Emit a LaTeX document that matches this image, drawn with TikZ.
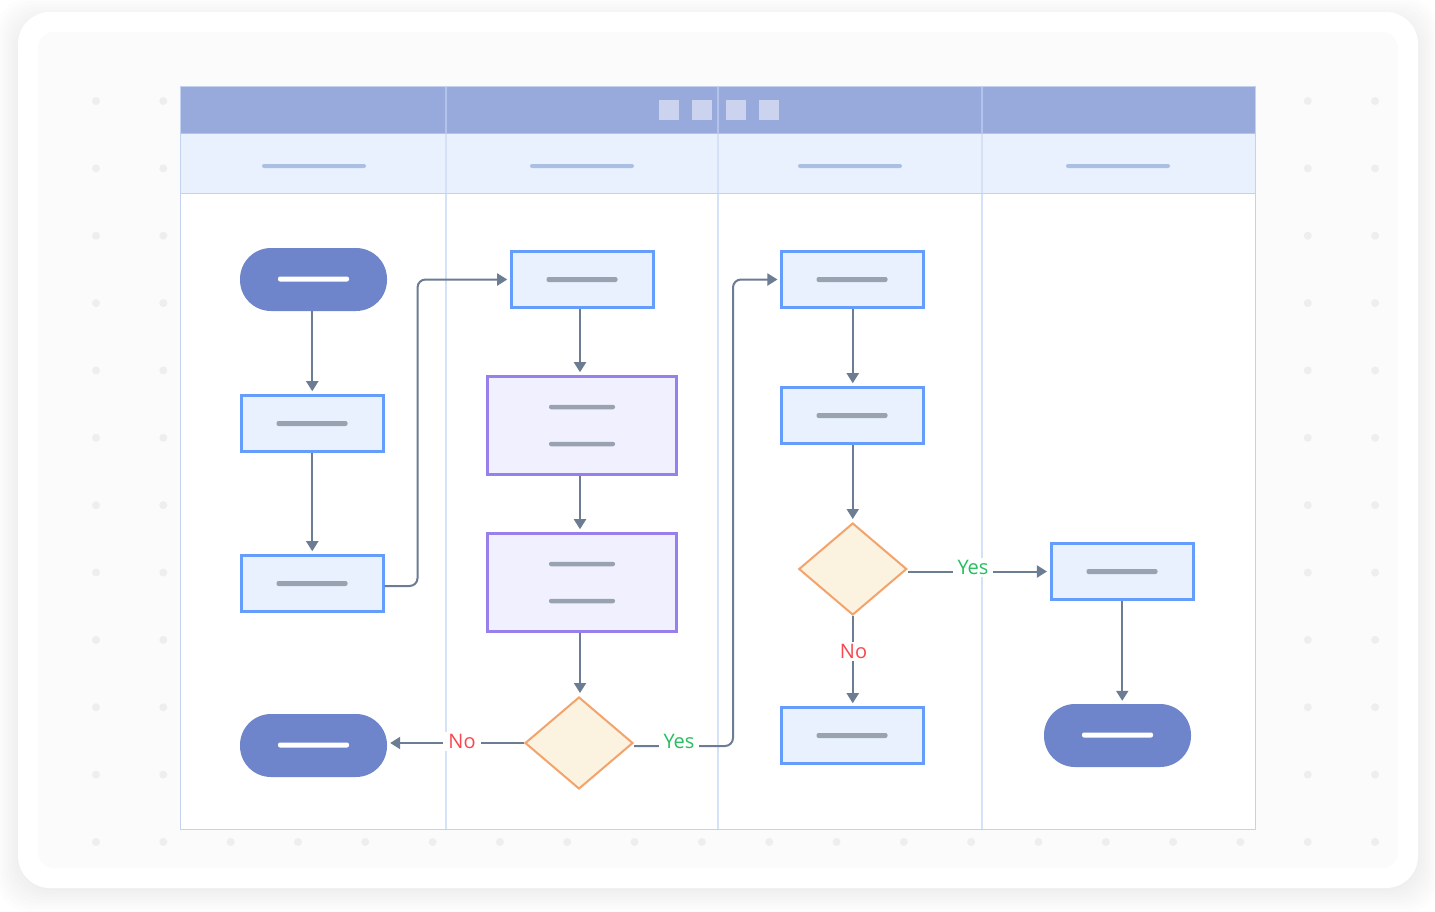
\documentclass[tikz,border=0pt]{standalone}
\usepackage{fontspec}
\setmainfont{Open Sans}
\usetikzlibrary{arrows.meta,shapes.geometric}
\definecolor{cardbg}{HTML}{FBFBFB}
\definecolor{griddot}{HTML}{EEEEEE}
\definecolor{headfill}{HTML}{98A9DC}
\definecolor{headline}{HTML}{B4C3EA}
\definecolor{headsquare}{HTML}{CBD3EE}
\definecolor{subfill}{HTML}{E9F1FE}
\definecolor{subbarfill}{HTML}{AABFE2}
\definecolor{laneline}{HTML}{D5E1F6}
\definecolor{laneborder}{HTML}{C3D3EF}
\definecolor{pillfill}{HTML}{6F85CB}
\definecolor{boxline}{HTML}{659DFD}
\definecolor{purpleline}{HTML}{9880EC}
\definecolor{purplefill}{HTML}{F1F0FE}
\definecolor{diamondline}{HTML}{F3A36C}
\definecolor{diamondfill}{HTML}{FBF2DF}
\definecolor{arrowline}{HTML}{6B7C93}
\definecolor{greybarfill}{HTML}{98A2B0}
\definecolor{yesgreen}{HTML}{27BE5F}
\definecolor{nored}{HTML}{F8474F}
\begin{document}
\begin{tikzpicture}[
    x=1pt, y=-1pt,
    every node/.style={inner sep=0pt},
    pill/.style={fill=pillfill, rounded corners=31pt, minimum width=147pt, minimum height=63pt},
    bluebox/.style={draw=boxline, line width=3pt, fill=subfill, minimum width=141.6pt, minimum height=55.6pt},
    purplebox/.style={draw=purpleline, line width=3pt, fill=purplefill, minimum width=188.6pt, minimum height=97.6pt},
    decision/.style={diamond, draw=diamondline, line width=2pt, fill=diamondfill, minimum width=108pt, minimum height=92pt},
    whitebar/.style={fill=white, rounded corners=2pt, minimum width=71pt, minimum height=5pt},
    greybar/.style={fill=greybarfill, rounded corners=2pt, minimum width=71pt, minimum height=5pt},
    shortbar/.style={fill=greybarfill, rounded corners=2pt, minimum width=66pt, minimum height=4.5pt},
    subbar/.style={fill=subbarfill, rounded corners=2pt, minimum width=104pt, minimum height=4pt},
    headsq/.style={fill=headsquare, minimum width=20pt, minimum height=20pt},
    flow/.style={draw=arrowline, line width=2pt, rounded corners=8pt, -{Triangle[length=10pt,width=12pt]}, shorten >=3pt},
    yeslabel/.style={fill=white, text=yesgreen, font=\fontsize{20}{20}\selectfont, inner xsep=5pt, inner ysep=2pt},
    nolabel/.style={fill=white, text=nored, font=\fontsize{20}{20}\selectfont, inner xsep=5pt, inner ysep=2pt}
]
    \useasboundingbox (0,0) rectangle (1435,911);

    % card and soft shadow
    \foreach \s in {22,19,...,1} {
        \fill[black, opacity=0.007, rounded corners=34pt] (18-\s,12-\s+8) rectangle (1418+\s,888+\s+2);
    }
    \fill[white, rounded corners=32pt] (18,12) rectangle (1418,888);
    \fill[cardbg, rounded corners=16pt] (38,32) rectangle (1398,868);

    % dots
    \foreach \i in {0,...,19} {
        \foreach \j in {0,...,11} {
            \fill[griddot] (96+67.32*\i,101+67.36*\j) circle (4pt);
        }
    }

    % swimlanes
    \fill[white] (180.5,86.5) rectangle (1255.5,829.5);
    \fill[headfill] (180.5,86.5) rectangle (1255.5,133);
    \fill[subfill] (180.5,133) rectangle (1255.5,193);
    \foreach \x in {446,718,982} {
        \draw[laneline, line width=1.5pt] (\x,133) -- (\x,829);
        \draw[headline, line width=1.5pt] (\x,87) -- (\x,133);
    }
    \draw[headline, line width=1pt] (180.5,133) -- (1255.5,133);
    \draw[laneborder, line width=1pt] (180.5,193) -- (1255.5,193);
    \draw[laneborder, line width=1pt] (180.5,86.5) rectangle (1255.5,829.5);
    \foreach \x in {669,702,736,769} {
        \node[headsq] (sq\x) at (\x,110) {};
    }
    \foreach \x in {314,582,850,1118} {
        \node[subbar] (sub\x) at (\x,166) {};
    }

    % first lane
    \node[pill] (start) at (313.5,279.5) {};
    \node[whitebar] (startbar) at (313.5,279) {};
    \node[bluebox] (check) at (312.25,423.5) {};
    \node[greybar] (checkbar) at (312,423.5) {};
    \node[bluebox] (send) at (312.25,583.5) {};
    \node[greybar] (sendbar) at (312,583.5) {};
    \node[pill] (stopleft) at (313.5,745.5) {};
    \node[whitebar] (stopleftbar) at (313.5,745) {};

    % second lane
    \node[bluebox] (receive) at (582.5,279.5) {};
    \node[greybar] (receivebar) at (582,279.5) {};
    \node[purplebox] (reviewa) at (582,425.5) {};
    \node[shortbar] (reviewaup) at (582,407) {};
    \node[shortbar] (reviewalow) at (582,444) {};
    \node[purplebox] (reviewb) at (582,582.5) {};
    \node[shortbar] (reviewbup) at (582,564) {};
    \node[shortbar] (reviewblow) at (582,601) {};
    \node[decision] (approve) at (579,743) {};

    % third lane
    \node[bluebox] (plan) at (852.75,279.5) {};
    \node[greybar] (planbar) at (852,279.5) {};
    \node[bluebox] (build) at (852.75,415.5) {};
    \node[greybar] (buildbar) at (852,415.5) {};
    \node[decision] (test) at (852.75,569) {};
    \node[bluebox] (fix) at (852.75,735.5) {};
    \node[greybar] (fixbar) at (852,735.5) {};

    % fourth lane
    \node[bluebox] (ship) at (1122.25,571.5) {};
    \node[greybar] (shipbar) at (1122,571.5) {};
    \node[pill] (stopright) at (1117.5,735.5) {};
    \node[whitebar] (stoprightbar) at (1117.5,735) {};

    % connectors
    \draw[flow] (check.north |- start.south) -- (check.north);
    \draw[flow] (check) -- (send);
    \draw[flow] ([yshift=-2.5pt]send.east) -- ++(33,0) |- (receive.west);
    \draw[flow] ([xshift=-2.5pt]receive.south) -- ([xshift=-2pt]reviewa.north);
    \draw[flow] ([xshift=-2pt]reviewa.south) -- ([xshift=-2pt]reviewb.north);
    \draw[flow] ([xshift=-2pt]reviewb.south) -- (approve.north -| 580,0);
    \draw[flow] (approve.west) -- (stopleft.east |- approve.west);
    \draw[flow] ([yshift=-3pt]approve.east) -- ++(99,0) |- (plan.west);
    \draw[flow] (plan) -- (build);
    \draw[flow] (build) -- (test);
    \draw[flow] (test) -- (fix);
    \draw[flow] (test.east |- ship.west) -- (ship.west);
    \draw[flow] (ship) -- (stopright.north -| ship);

    % labels
    \node[nolabel] (nolow) at (462,741.5) {No};
    \node[yeslabel] (yeslow) at (679,741.5) {Yes};
    \node[yeslabel] (yesup) at (973,567.5) {Yes};
    \node[nolabel] (noup) at (853.5,651.5) {No};
\end{tikzpicture}
\end{document}
